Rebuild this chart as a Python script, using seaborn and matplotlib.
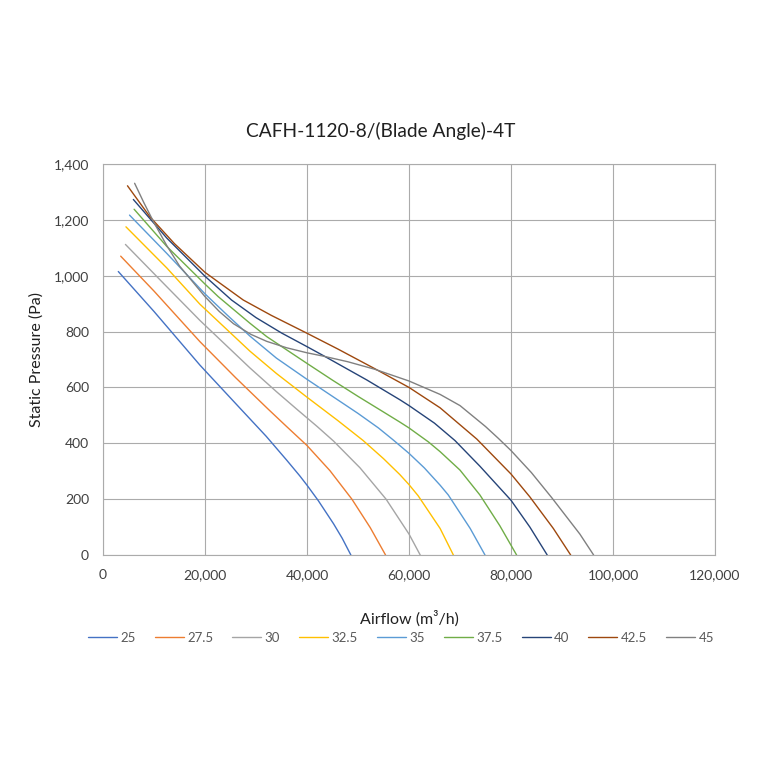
import pandas as pd
import matplotlib
matplotlib.use('Agg')
import matplotlib.pyplot as plt
import seaborn as sns
from matplotlib.ticker import FuncFormatter, MultipleLocator

# blade angles and their curves (airflow m3/h, static pressure Pa)
angles = ['25', '27.5', '30', '32.5', '35', '37.5', '40', '42.5', '45']

flow_25 = [3000, 10000, 19000, 27200, 32000, 36000, 38600, 40000, 42200, 45200, 46900, 48600]
pres_25 = [1015, 872, 680, 519, 425, 340, 283, 250, 195, 112, 60, 0]

flow_27 = [3470, 10000, 19000, 26000, 32400, 36000, 40000, 44500, 48800, 52400, 55400]
pres_27 = [1070, 945, 764, 635, 522, 460, 392, 302, 200, 98, 0]

flow_30 = [4400, 12000, 19000, 28800, 34000, 38000, 42000, 45200, 50400, 55500, 60000, 62200]
pres_30 = [1112, 970, 840, 670, 585, 522, 460, 408, 312, 200, 75, 0]

flow_32 = [4500, 12500, 19000, 28800, 34000, 40000, 46000, 51000, 55000, 58200, 60000, 61800, 66100, 68700]
pres_32 = [1175, 1028, 898, 730, 650, 565, 482, 410, 345, 288, 252, 212, 95, 0]

flow_35 = [5200, 12500, 20000, 24300, 28800, 34000, 40000, 45000, 50000, 54000, 56900, 60000,
           63000, 66100, 67700, 72000, 74900]
pres_35 = [1217, 1080, 935, 860, 784, 705, 629, 568, 507, 455, 412, 364,
           312, 250, 215, 95, 0]

flow_37 = [6100, 12500, 20000, 22600, 28800, 32100, 40000, 45000, 50000, 55000, 58200, 60000,
           63800, 66100, 70000, 73900, 77800, 81100]
pres_37 = [1238, 1105, 970, 925, 830, 782, 686, 626, 568, 512, 476, 455,
           405, 370, 304, 215, 105, 0]

flow_40 = [5950, 12500, 20000, 25200, 30000, 35000, 40000, 43200, 51700, 58200, 60000, 65000,
           69000, 73900, 80000, 83700, 87100]
pres_40 = [1273, 1135, 998, 913, 850, 795, 746, 714, 627, 556, 535, 472,
           410, 318, 196, 100, 0]

flow_42 = [4800, 9200, 14000, 20000, 27500, 33000, 40000, 46000, 53300, 60000, 66100, 73300,
           80000, 83700, 88300, 91700]
pres_42 = [1322, 1211, 1115, 1012, 913, 858, 794, 738, 667, 600, 527, 415,
           290, 208, 95, 0]

flow_45 = [6200, 8000, 10000, 12500, 15000, 20000, 22800, 25600, 29000, 32100, 36000, 40000,
           43200, 48000, 53300, 60000, 66100, 70000, 75000, 77500, 80000, 84000, 88000, 93500, 96200]
pres_45 = [1331, 1262, 1190, 1108, 1035, 925, 872, 828, 790, 765, 742, 724,
           712, 692, 665, 623, 575, 535, 460, 418, 374, 295, 205, 75, 0]

flows = [flow_25, flow_27, flow_30, flow_32, flow_35, flow_37, flow_40, flow_42, flow_45]
pressures = [pres_25, pres_27, pres_30, pres_32, pres_35, pres_37, pres_40, pres_42, pres_45]

colors = ['#4472C4', '#ED7D31', '#A5A5A5', '#FFC000', '#5B9BD5',
          '#70AD47', '#264478', '#9E480E', '#808080']

frames = []
for a, f, p in zip(angles, flows, pressures):
    frames.append(pd.DataFrame({'Airflow': f, 'Pressure': p, 'Angle': a}))
df = pd.concat(frames, ignore_index=True)

sns.set_style('white')
plt.rcParams['font.family'] = ['Lato', 'DejaVu Sans']

fig = plt.figure(figsize=(7.6, 7.6), dpi=100)
ax = fig.add_axes([103 / 760, 1 - 555 / 760, 612 / 760, 391 / 760])

sns.lineplot(data=df, x='Airflow', y='Pressure', hue='Angle', hue_order=angles,
             palette=colors, sort=False, estimator=None, linewidth=1.0, ax=ax)

ax.set_xlim(0, 120000)
ax.set_ylim(0, 1400)
ax.xaxis.set_major_locator(MultipleLocator(20000))
ax.yaxis.set_major_locator(MultipleLocator(200))
fmt = FuncFormatter(lambda v, pos: f'{int(v):,}')
ax.xaxis.set_major_formatter(fmt)
ax.yaxis.set_major_formatter(fmt)
ax.grid(True, color='#ababab', linewidth=0.8)
ax.set_axisbelow(True)
for s in ax.spines.values():
    s.set_color('#ababab')
    s.set_linewidth(0.8)
ax.tick_params(axis='both', length=0, labelsize=10, labelcolor='#404040', pad=10)

ax.set_xlabel('Airflow (m³/h)', fontsize=11.5, color='#202020', labelpad=21)
ax.set_ylabel('Static Pressure (Pa)', fontsize=11.5, color='#202020', labelpad=7)
fig.text(0.5015, 1 - 131 / 760, 'CAFH-1120-8/(Blade Angle)-4T', ha='center', va='center',
         fontsize=13.8, color='#202020')

handles, labels = ax.get_legend_handles_labels()
ax.legend(handles, labels, loc='center', bbox_to_anchor=(298 / 612, -83 / 391),
          ncol=9, frameon=False, fontsize=9.5, handlelength=2.2, handletextpad=0.25,
          columnspacing=1.45, labelcolor='#595959')

fig.savefig('out.png', dpi=100)
